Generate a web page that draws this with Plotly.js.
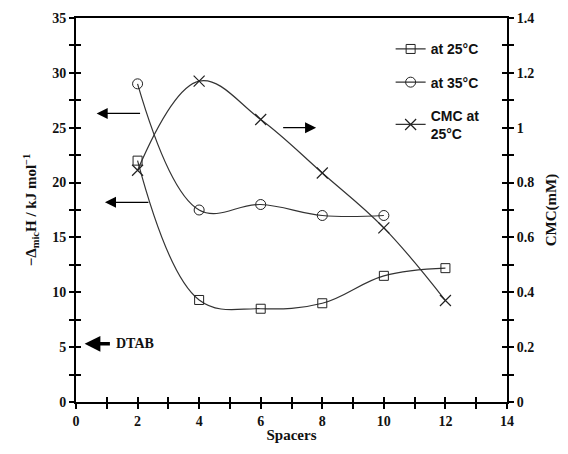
<!DOCTYPE html>
<html><head><meta charset="utf-8">
<script src="https://cdn.plot.ly/plotly-3.0.1.min.js"></script>
<style>html,body{margin:0;padding:0;background:#fff}</style>
</head><body>
<div id="chart" style="width:568px;height:454px"></div>
<script>
const spacers = [2, 4, 6, 8, 10, 12];
const spacers35 = [2, 4, 6, 8, 10];
const dH25 = [22, 9.3, 8.5, 9, 11.5, 12.2];
const dH35 = [29, 17.5, 18, 17, 17];
const cmc25 = [0.845, 1.17, 1.03, 0.835, 0.635, 0.37];
const names = ['at 25°C', 'at 35°C', 'CMC at<br>25°C'];

const lineStyle = {color: '#333', width: 1.2, shape: 'spline', smoothing: 1.1};
const traces = [
  {x: spacers, y: dH25, name: names[0], mode: 'lines+markers', line: lineStyle,
   marker: {symbol: 'square-open', size: 9, color: '#222', line: {width: 1}}, legendgroup: 'a'},
  {x: spacers35, y: dH35, name: names[1], mode: 'lines+markers', line: lineStyle,
   marker: {symbol: 'circle-open', size: 10, color: '#222', line: {width: 1}}, legendgroup: 'b'},
  {x: spacers, y: cmc25, name: names[2], mode: 'lines+markers', line: lineStyle, yaxis: 'y2',
   marker: {symbol: 'x-thin-open', size: 11, color: '#222', line: {width: 1.2, color: '#222'}}, legendgroup: 'c'},
  {x: [], y: [], xaxis: 'x2', yaxis: 'y3', showlegend: false, hoverinfo: 'skip'},
  {x: [], y: [], xaxis: 'x2', yaxis: 'y4', showlegend: false, hoverinfo: 'skip'}
];

const tickF = {family: 'Liberation Serif', size: 14, color: '#111', weight: 'bold'};
const axBase = {showgrid: false, zeroline: false, showline: true, linecolor: '#000', linewidth: 2,
  ticks: 'outside', ticklen: 5, tickwidth: 2, tickcolor: '#000', tickfont: tickF};

const layout = {
  width: 568, height: 454,
  margin: {l: 76, r: 61, t: 18, b: 52},
  paper_bgcolor: '#fff', plot_bgcolor: '#fff',
  showlegend: true,
  legend: {x: 0.73, y: 0.96, xanchor: 'left', yanchor: 'top', traceorder: 'grouped', tracegroupgap: 12,
    font: {family: 'Liberation Sans', size: 14, color: '#111', weight: 'bold'}, bgcolor: 'rgba(0,0,0,0)', itemwidth: 30},
  xaxis: Object.assign({}, axBase, {range: [0, 14], dtick: 2, tick0: 0, mirror: true,
    minor: {dtick: 1, ticks: 'outside', ticklen: 5, tickwidth: 2, tickcolor: '#000'},
    title: {text: 'Spacers', standoff: 2, font: {family: 'Liberation Serif', size: 15, color: '#111', weight: 'bold'}}}),
  yaxis: Object.assign({}, axBase, {range: [0, 35], dtick: 5, tick0: 0,
    minor: {dtick: 2.5, ticks: 'outside', ticklen: 5, tickwidth: 2, tickcolor: '#000'},
    title: {text: '−Δ<sub>mic</sub>H / kJ mol<sup>−1</sup>', standoff: 12, font: {family: 'Liberation Serif', size: 15, color: '#111', weight: 'bold'}}}),
  yaxis2: Object.assign({}, axBase, {range: [0, 1.4], dtick: 0.2, tick0: 0, overlaying: 'y', side: 'right', anchor: 'x',
    minor: {dtick: 0.1, ticks: 'outside', ticklen: 5, tickwidth: 2, tickcolor: '#000'},
    title: {text: 'CMC(mM)', standoff: 12, font: {family: 'Liberation Serif', size: 15, color: '#111', weight: 'bold'}}}),
  xaxis2: {overlaying: 'x', range: [0, 14], dtick: 1, ticks: 'inside', ticklen: 5, tickwidth: 2, tickcolor: '#000',
    showticklabels: false, showgrid: false, zeroline: false, showline: false, anchor: 'y3', side: 'bottom'},
  yaxis3: {overlaying: 'y', range: [0, 35], dtick: 2.5, ticks: 'inside', ticklen: 5, tickwidth: 2, tickcolor: '#000',
    showticklabels: false, showgrid: false, zeroline: false, showline: false, side: 'left', anchor: 'x2'},
  yaxis4: {overlaying: 'y', range: [0, 1.4], dtick: 0.1, ticks: 'inside', ticklen: 5, tickwidth: 2, tickcolor: '#000',
    showticklabels: false, showgrid: false, zeroline: false, showline: false, side: 'right', anchor: 'free', position: 1},
  annotations: [
    {x: 0.67, y: 26.3, ax: 2.13, ay: 26.3, xref: 'x', yref: 'y', axref: 'x', ayref: 'y', text: '',
     showarrow: true, arrowhead: 2, arrowsize: 1.7, arrowwidth: 1.3, arrowcolor: '#000'},
    {x: 0.94, y: 18.2, ax: 2.4, ay: 18.2, xref: 'x', yref: 'y', axref: 'x', ayref: 'y', text: '',
     showarrow: true, arrowhead: 2, arrowsize: 1.7, arrowwidth: 1.3, arrowcolor: '#000'},
    {x: 7.8, y: 25.0, ax: 6.68, ay: 25.0, xref: 'x', yref: 'y', axref: 'x', ayref: 'y', text: '',
     showarrow: true, arrowhead: 2, arrowsize: 1.7, arrowwidth: 1.3, arrowcolor: '#000'},
    {x: 0.28, y: 5.3, ax: 1.15, ay: 5.3, xref: 'x', yref: 'y', axref: 'x', ayref: 'y', text: '',
     showarrow: true, arrowhead: 2, arrowsize: 0.9, arrowwidth: 3.5, arrowcolor: '#000'},
    {x: 1.25, y: 5.3, xref: 'x', yref: 'y', text: 'DTAB', showarrow: false, xanchor: 'left',
     font: {family: 'Liberation Serif', size: 14, color: '#111', weight: 'bold'}}
  ]
};

Plotly.newPlot('chart', traces, layout, {displayModeBar: false, staticPlot: true});
</script>
</body></html>
